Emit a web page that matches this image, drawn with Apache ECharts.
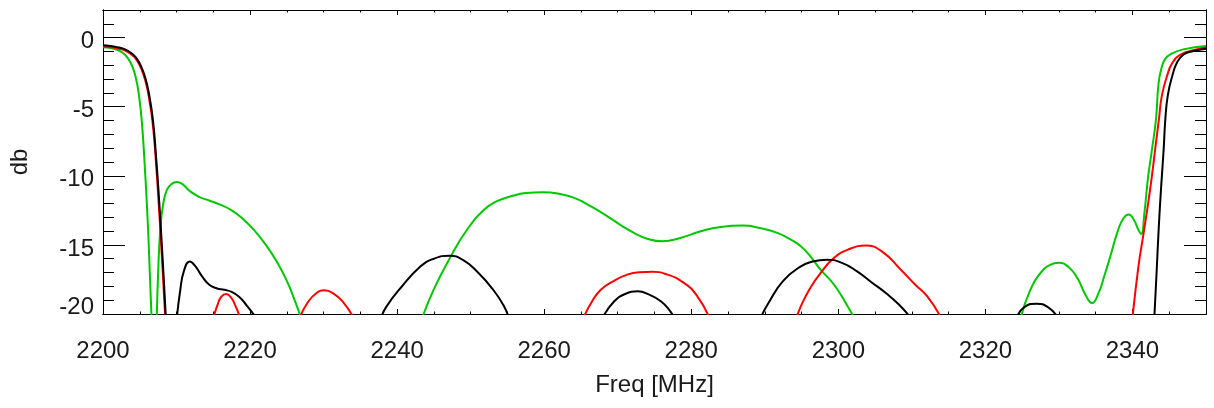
<!DOCTYPE html>
<html>
<head>
<meta charset="utf-8">
<script src="https://cdn.jsdelivr.net/npm/echarts@6/dist/echarts.min.js"></script>
<style>
html,body{margin:0;padding:0;background:#fff;}
#chart{width:1214px;height:408px;}
</style>
</head>
<body>
<div id="chart"></div>
<script>
// ---- data (null marks a gap where the curve is below the plotted range) ----
const blackFreq = [2200,2201,2202,2203,2203.8,2204.5,2205.2,2205.8,2206.3,2206.8,2207.2,2207.6,2208.0,2208.3,2208.6,
  null,
  2210.0,2210.5,2211.0,2211.8,2212.5,2213.5,2214.5,2215.5,2216.5,2217.5,2218.5,2219.5,2220.3,2220.8,
  null,
  2237.8,2238.5,2240.5,2243.2,2245,2247.1,2249,2251,2253,2254.5,2255.2,
  null,
  2268.0,2269.5,2271,2272.7,2274.3,2275.9,2277.0,2277.7,
  null,
  2289.4,2290.5,2292.5,2294.9,2296.5,2298.5,2300.5,2302.5,2304.5,2306.5,2308.2,2309.9,
  null,
  2324.3,2325.3,2327.0,2328.5,2329.8,
  null,
  2342.95,2343.3,2343.56,2343.9,2344.24,2344.47,2344.8,2345.4,2346.06,2346.96,2348.3,2350];
const blackDb = [-0.56,-0.6,-0.7,-0.85,-1.1,-1.45,-2.1,-3.0,-4.2,-6.0,-8.5,-11.5,-15.0,-17.8,-20.8,
  null,
  -20.5,-18.3,-16.9,-16.2,-16.5,-17.3,-17.9,-18.15,-18.25,-18.4,-18.75,-19.35,-19.9,-20.3,
  null,
  -20.3,-19.5,-18.1,-16.55,-16.0,-15.78,-16.1,-17.0,-18.2,-19.4,-20.3,
  null,
  -20.2,-19.1,-18.55,-18.36,-18.6,-19.1,-19.7,-20.3,
  null,
  -20.3,-19.2,-17.6,-16.55,-16.2,-16.07,-16.3,-16.9,-17.7,-18.5,-19.3,-20.3,
  null,
  -20.2,-19.5,-19.25,-19.5,-20.2,
  null,
  -20.5,-16.8,-13.9,-10.8,-8.1,-5.9,-4.2,-2.8,-1.8,-1.22,-0.97,-0.8];

const redFreq = [2200,2201,2202,2203,2203.8,2204.5,2205.2,2205.8,2206.3,2206.8,2207.2,2207.6,2208.0,2208.5,
  null,
  2215.05,2215.6,2216.1,2216.75,2217.4,2218.0,2218.6,
  null,
  2226.8,2227.8,2229,2230.1,2231.3,2232.6,2234.0,
  null,
  2265.4,2266.5,2267.7,2269.5,2271.3,2273,2274.7,2276.5,2279.0,2280.8,2282.4,
  null,
  2294.3,2294.9,2296.2,2297.6,2299.5,2301.5,2303.7,2306,2308.5,2310.5,2312.1,2313.9,
  null,
  2340.0,2340.8,2341.5,2342.4,2343.2,2343.6,2344.0,2344.7,2345.45,2346.6,2348.45,2350];
const redDb = [-0.65,-0.68,-0.78,-0.93,-1.2,-1.55,-2.25,-3.2,-4.5,-6.4,-9.0,-12.2,-15.8,-20.6,
  null,
  -20.2,-19.3,-18.75,-18.55,-18.8,-19.4,-20.2,
  null,
  -20.2,-19.2,-18.5,-18.29,-18.5,-19.1,-20.2,
  null,
  -20.2,-19.1,-18.24,-17.6,-17.15,-16.98,-16.95,-17.1,-17.75,-18.7,-20.2,
  null,
  -20.3,-19.45,-18.1,-17.03,-15.9,-15.3,-15.05,-15.5,-16.8,-17.9,-18.72,-20.2,
  null,
  -20.3,-16.6,-14.2,-11.0,-7.6,-5.9,-4.2,-2.78,-1.81,-1.21,-0.9,-0.72];

const greenFreq = [2200,2201,2202,2202.8,2203.4,2204.0,2204.5,2204.9,2205.3,2205.7,2206.1,2206.4,2206.62,
  null,
  2207.3,2207.5,2207.8,2208.2,2208.7,2209.3,2210.05,2210.8,2211.8,2213,2214.5,2216,2217.5,2219,2220.5,2222,2223.5,2225,2226.2,2226.95,
  null,
  2243.4,2245,2247.3,2249.5,2251.85,2253.5,2255.5,2257.5,2259.8,2262,2264.1,2266.3,2268.6,2270.5,2272.2,2274,2276.1,2278.5,2281.3,2284,2286.96,2289.5,2291.7,2293.5,2294.9,2296.3,2297.6,2299,2299.9,2301,2302.2,
  null,
  2324.8,2326,2327.5,2328.8,2330.0,2331.3,2332.5,2333.6,2334.5,2335.3,2336.2,2337.0,2338.0,2338.8,2339.5,2340.2,2340.8,2341.2,2341.6,2342.1,2342.65,2343.2,2343.55,2344.0,2344.5,2345.2,2346.9,2350];
const greenDb = [-0.7,-0.75,-0.9,-1.15,-1.5,-2.1,-3.0,-4.2,-6.2,-9.5,-13.5,-17.5,-20.5,
  null,
  -20.5,-17,-13.8,-12.0,-11.0,-10.6,-10.45,-10.6,-11.1,-11.5,-11.8,-12.1,-12.5,-13.1,-13.9,-14.9,-16.1,-17.6,-19.2,-20.3,
  null,
  -20.3,-18.2,-15.83,-13.9,-12.44,-11.85,-11.48,-11.25,-11.19,-11.3,-11.6,-12.2,-12.93,-13.6,-14.13,-14.55,-14.74,-14.5,-14.01,-13.7,-13.6,-13.8,-14.13,-14.6,-15.1,-15.9,-16.8,-17.6,-18.24,-19.2,-20.3,
  null,
  -20.3,-18.4,-17.03,-16.45,-16.3,-16.6,-17.4,-18.6,-19.2,-18.6,-17.2,-15.8,-14.0,-13.05,-12.8,-13.2,-13.9,-14.2,-12.8,-10.2,-8.1,-5.9,-3.3,-2.1,-1.5,-1.2,-0.85,-0.61];

const xTicks = [2200,2220,2240,2260,2280,2300,2320,2340];
const yTicks = [0,-5,-10,-15,-20];

function pairs(fs, ds){
  return fs.map((f,i) => (f === null || ds[i] === null) ? ['-','-'] : [f, ds[i]]);
}

const FONT = 'Liberation Sans';
const TXT = '#1a1a1a';
const AX = '#000';
const FS = 24;

function xAx(pos, interval, len, withLabels){
  const a = {
    type:'value', gridIndex:0, position:pos, min:2200, max:2350, interval:interval,
    axisLine:{show:true, onZero:false, lineStyle:{color:AX, width:1}},
    axisTick:{show:true, inside:true, length:len, lineStyle:{color:AX, width:1}},
    splitLine:{show:false},
    axisLabel:{show:false}
  };
  if (withLabels){
    a.axisLabel = {show:true, fontSize:FS, fontFamily:FONT, color:TXT, margin:25, showMaxLabel:false,
      formatter: v => xTicks.indexOf(v) >= 0 ? String(v) : ''};
    a.name = 'Freq [MHz]';
    a.nameLocation = 'middle';
    a.nameGap = 59;
    a.nameTextStyle = {fontSize:FS, fontFamily:FONT, color:TXT};
  }
  return a;
}
function yAx(pos, interval, len, withLabels){
  const a = {
    type:'value', gridIndex:0, position:pos, min:-20, max:2, interval:interval,
    axisLine:{show:true, onZero:false, lineStyle:{color:AX, width:1}},
    axisTick:{show:true, inside:true, length:len, lineStyle:{color:AX, width:1}},
    splitLine:{show:false},
    axisLabel:{show:false}
  };
  if (withLabels){
    a.axisLabel = {show:true, fontSize:FS, fontFamily:FONT, color:TXT, margin:9, showMaxLabel:false,
      formatter: v => yTicks.indexOf(v) < 0 ? '' : (v === -20 ? '{lo|' + v + '}' : '{hi|' + v + '}'),
      rich:{
        hi:{fontSize:FS, fontFamily:FONT, color:TXT, padding:[8,0,0,0]},
        lo:{fontSize:FS, fontFamily:FONT, color:TXT, padding:[0,0,13,0]}
      }};
    a.name = 'db';
    a.nameLocation = 'middle';
    a.nameGap = 71;
    a.nameTextStyle = {fontSize:FS, fontFamily:FONT, color:TXT};
  }
  return a;
}

function lineSeries(name, fs, ds, color){
  return {
    name:name, type:'line', xAxisIndex:0, yAxisIndex:0,
    data:pairs(fs, ds), showSymbol:false, symbol:'none',
    smooth:0.5, connectNulls:false, clip:true,
    lineStyle:{color:color, width:2}, itemStyle:{color:color}
  };
}

const chart = echarts.init(document.getElementById('chart'), null, {renderer:'canvas'});
chart.setOption({
  animation:false,
  backgroundColor:'#fff',
  grid:{left:101, right:8, top:10, bottom:94, containLabel:false},
  xAxis:[xAx('bottom',20,5,true), xAx('bottom',5,2.5,false), xAx('top',20,5,false), xAx('top',5,2.5,false)],
  yAxis:[yAx('left',5,22,true), yAx('left',1,11,false), yAx('right',5,22,false), yAx('right',1,11,false)],
  series:[
    lineSeries('green', greenFreq, greenDb, '#00c800'),
    lineSeries('red', redFreq, redDb, '#ff0000'),
    lineSeries('black', blackFreq, blackDb, '#000000')
  ]
});
</script>
</body>
</html>
